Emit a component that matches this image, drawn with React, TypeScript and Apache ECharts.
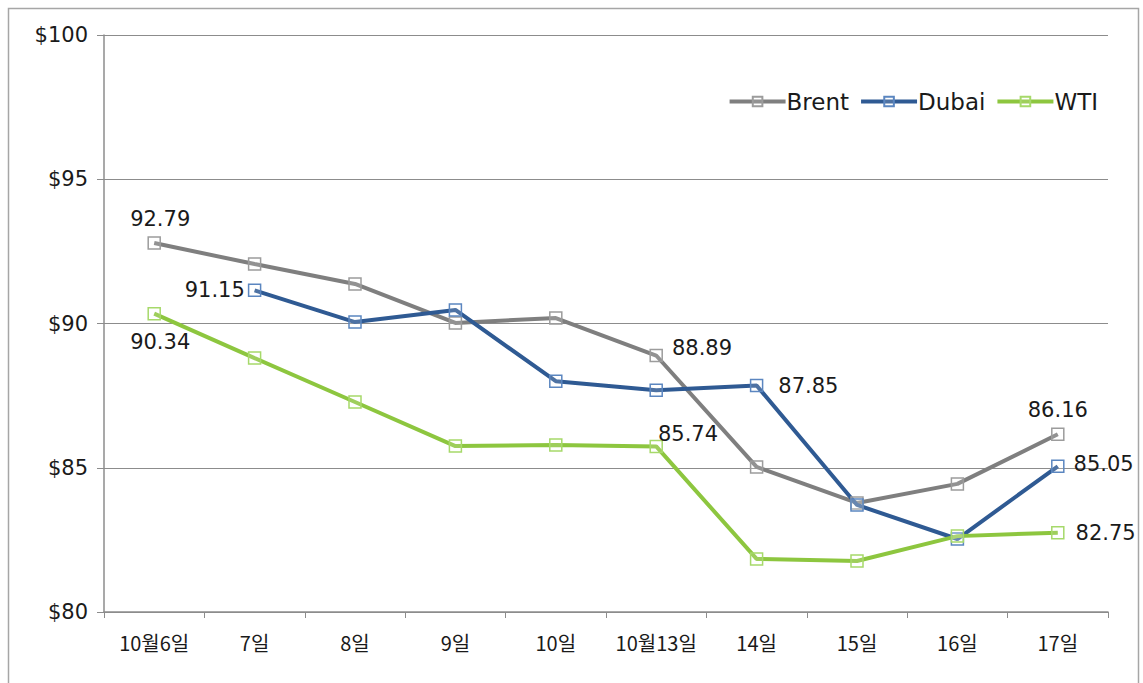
import React, { useEffect, useRef } from "react";
import * as echarts from "echarts";

const categories = ["10월6일", "7일", "8일", "9일", "10일", "10월13일", "14일", "15일", "16일", "17일"];
const brent: (number | null)[] = [92.79, 92.06, 91.37, 90.02, 90.19, 88.89, 85.03, 83.78, 84.44, 86.16];
const dubai: (number | null)[] = [null, 91.15, 90.05, 90.47, 88.0, 87.69, 87.85, 83.71, 82.53, 85.05];
const wti: (number | null)[] = [90.34, 88.8, 87.28, 85.75, 85.79, 85.74, 81.84, 81.77, 82.63, 82.75];
const yTicks = [80, 85, 90, 95, 100];

// label positions by index
const brentLabels: Record<number, any> = { 0: { position: "top", offset: [6, -2] }, 5: { position: "right", offset: [4, -8] }, 9: { position: "top", offset: [0, -2] } };
const dubaiLabels: Record<number, any> = { 1: { position: "left", offset: [2, 0] }, 6: { position: "right", offset: [10, 0] }, 9: { position: "right", offset: [4, -2] } };
const wtiLabels: Record<number, any> = { 0: { position: "bottom", offset: [6, 6] }, 5: { position: "right", offset: [-10, -12] }, 9: { position: "right", offset: [6, 0] } };

const FONT = "'Noto Sans CJK KR', 'Noto Sans', sans-serif";
const NUMFONT = "'DejaVu Sans', sans-serif";

function buildData(vals: (number | null)[], labels: Record<number, any>) {
  return vals.map((v, i) => {
    const l = labels[i];
    if (v === null) return { value: null };
    if (!l) return { value: v };
    return {
      value: v,
      label: {
        show: true,
        position: l.position,
        offset: l.offset,
        formatter: (p: any) => Number(p.value).toFixed(2),
        color: "#1a1a1a",
        fontSize: 21,
        fontFamily: NUMFONT,
      },
    };
  });
}

export default function App() {
  const ref = useRef<HTMLDivElement>(null);
  useEffect(() => {
    if (!ref.current) return;
    const chart = echarts.init(ref.current, null, { renderer: "svg" });
    const mkSeries = (name: string, vals: (number | null)[], labels: Record<number, any>, color: string, markerColor: string) => ({
      name,
      type: "line",
      data: buildData(vals, labels),
      symbol: "rect",
      symbolSize: 12,
      showAllSymbol: true,
      connectNulls: false,
      lineStyle: { color, width: 4 },
      itemStyle: { color: "rgba(255,255,255,0.15)", borderColor: markerColor, borderWidth: 1.5 },
      label: { show: false },
      emphasis: { disabled: true },
      z: 3,
    });
    chart.setOption({
      animation: false,
      backgroundColor: "#ffffff",
      graphic: [
        {
          type: "rect",
          shape: { x: 8.5, y: 8.5, width: 1130, height: 700 },
          style: { fill: "none", stroke: "#a6a6a6", lineWidth: 1.5 },
          silent: true,
          z: -10,
        },
      ],
      grid: { left: 104, right: 35, top: 35, bottom: 71, containLabel: false },
      legend: {
        top: 85,
        right: 40,
        itemWidth: 56,
        itemHeight: 12,
        itemGap: 10,
        lineStyle: { width: 4 },
        textStyle: { fontSize: 23, color: "#1a1a1a", fontFamily: NUMFONT, padding: [0, 0, 0, -4] },
        data: ["Brent", "Dubai", "WTI"],
      },
      xAxis: {
        type: "category",
        data: categories,
        boundaryGap: true,
        axisLine: { show: true, lineStyle: { color: "#8c8c8c", width: 1.5 } },
        axisTick: { show: true, length: 6, lineStyle: { color: "#8c8c8c" } },
        axisLabel: { interval: 0, fontSize: 20, color: "#1a1a1a", fontFamily: FONT, margin: 20 },
      },
      yAxis: {
        type: "value",
        min: 80,
        max: 100,
        interval: 5,
        axisLine: { show: true, lineStyle: { color: "#8c8c8c", width: 1.5 } },
        axisTick: { show: true, length: 7, lineStyle: { color: "#8c8c8c" } },
        splitLine: { show: true, lineStyle: { color: "#8c8c8c", width: 1.2 } },
        axisLabel: {
          fontSize: 21,
          color: "#1a1a1a",
          fontFamily: NUMFONT,
          margin: 16,
          formatter: (v: number) => (yTicks.includes(v) ? "$" + v : ""),
        },
      },
      series: [
        mkSeries("Brent", brent, brentLabels, "#7f7f7f", "#9c9c9c"),
        mkSeries("Dubai", dubai, dubaiLabels, "#2f5a93", "#5b86c0"),
        mkSeries("WTI", wti, wtiLabels, "#8dc63f", "#a6d96a"),
      ],
    });
    return () => chart.dispose();
  }, []);
  return (
    <div
      ref={ref}
      style={{ position: "absolute", left: 0, top: 0, width: 1143, height: 683 }}
    />
  );
}
